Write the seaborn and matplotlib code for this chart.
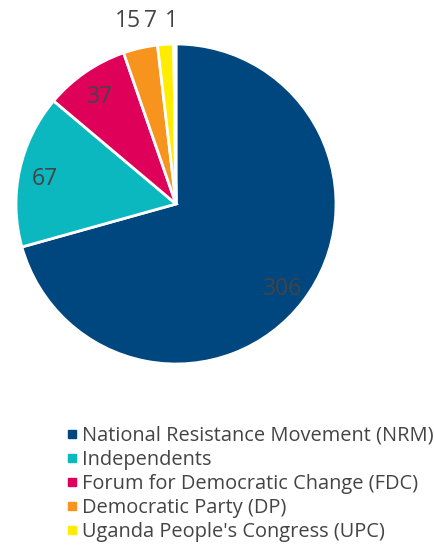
import matplotlib
matplotlib.use("Agg")
from matplotlib import pyplot as plt
from matplotlib.lines import Line2D
import numpy as np
import seaborn as sns

# Data
parties = ["National Resistance Movement (NRM)", "Independents",
           "Forum for Democratic Change (FDC)", "Democratic Party (DP)",
           "Uganda People's Congress (UPC)", "Other"]
seats = [306, 67, 37, 15, 7, 1]
colors = ["#00467F", "#0BB8BF", "#DF0059", "#F7941E", "#FFEC00", "#FFFFFF"]

sns.set_theme(style="white")
plt.rcParams['font.family'] = ['Open Sans', 'DejaVu Sans']
txt_color = "#444444"

fig = plt.figure(figsize=(4.35, 5.45), dpi=100)
ax = fig.add_axes([16 / 435, (545 - 364) / 545, 320 / 435, 320 / 545])

wedges, _ = ax.pie(seats, colors=sns.color_palette(colors), startangle=90, counterclock=False,
                   wedgeprops=dict(edgecolor="white", linewidth=2))
ax.set_xlim(-1, 1)
ax.set_ylim(-1, 1)
ax.set_aspect("equal")
ax.axis("off")

# labels for the big slices, inside near the edge
for w, v in zip(wedges[:3], seats[:3]):
    mid = np.deg2rad((w.theta1 + w.theta2) / 2)
    ax.text(0.84 * np.cos(mid), 0.84 * np.sin(mid) - 0.025, str(v), ha="center", va="center",
            fontsize=16.5, color=txt_color)

# small slices: labels lined up above the pie
x_small = [-0.30, -0.16, -0.03]
for x, v in zip(x_small, seats[3:]):
    ax.text(x, 1.145, str(v), ha="center", va="center", fontsize=16.5, color=txt_color)

handles = [Line2D([], [], marker="s", linestyle="", markersize=5.5, color=c) for c in colors[:5]]
fig.legend(handles, parties[:5], loc="upper left", bbox_to_anchor=(57 / 435, 1 - 416 / 545),
           frameon=False, fontsize=14.4, labelcolor=txt_color, handlelength=0.5,
           handletextpad=0.25, labelspacing=0.2, borderpad=0)

plt.savefig("out.png", dpi=100)
